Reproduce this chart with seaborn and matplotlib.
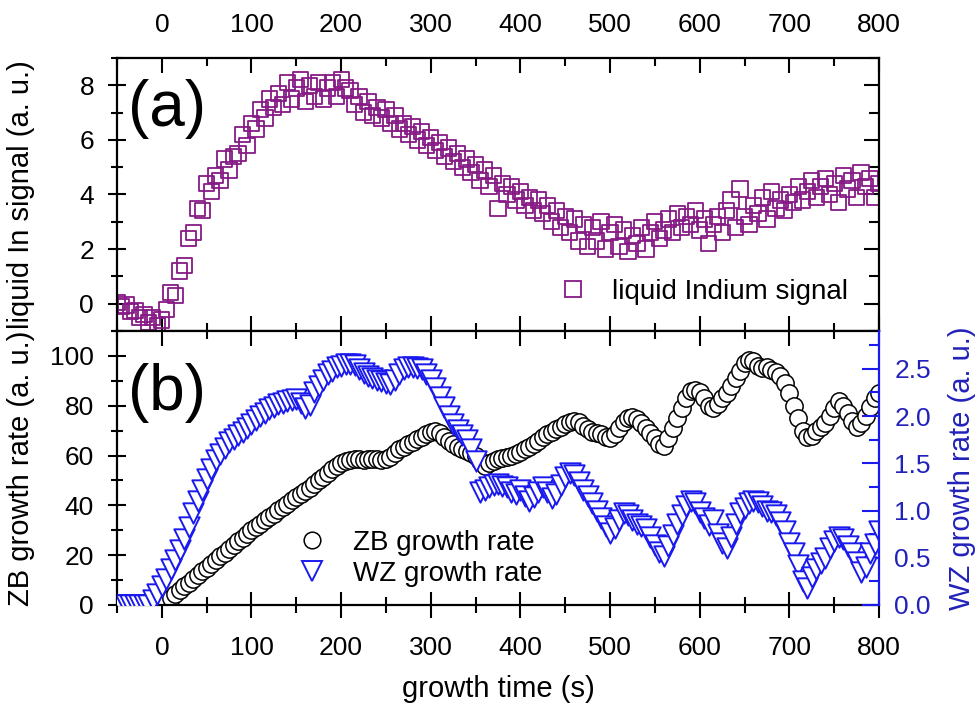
import matplotlib
matplotlib.use("Agg")
import matplotlib.pyplot as plt
import seaborn as sns
from matplotlib.ticker import MultipleLocator, FormatStrFormatter
from matplotlib.lines import Line2D

sns.set_style("ticks", rc={"text.color": "black", "axes.labelcolor": "black",
                           "xtick.color": "black", "ytick.color": "black",
                           "axes.edgecolor": "black"})
plt.rcParams['font.family'] = ['Liberation Sans', 'DejaVu Sans']

# ---------------- data ----------------
time_in = [-50, -45, -40, -35, -30, -25, -20, -15, -10, -5,
           0, 5, 10, 15, 20, 25, 30, 35, 40, 45,
           50, 55, 60, 65, 70, 75, 80, 85, 90, 95,
           100, 105, 110, 115, 120, 125, 130, 135, 140, 145,
           150, 155, 160, 165, 170, 175, 180, 185, 190, 195,
           200, 205, 210, 215, 220, 225, 230, 235, 240, 245,
           250, 255, 260, 265, 270, 275, 280, 285, 290, 295,
           300, 305, 310, 315, 320, 325, 330, 335, 340, 345,
           350, 355, 360, 365, 370, 375, 380, 385, 390, 395,
           400, 405, 410, 415, 420, 425, 430, 435, 440, 445,
           450, 455, 460, 465, 470, 475, 480, 485, 490, 495,
           500, 505, 510, 515, 520, 525, 530, 535, 540, 545,
           550, 555, 560, 565, 570, 575, 580, 585, 590, 595,
           600, 605, 610, 615, 620, 625, 630, 635, 640, 645,
           650, 655, 660, 665, 670, 675, 680, 685, 690, 695,
           700, 705, 710, 715, 720, 725, 730, 735, 740, 745,
           750, 755, 760, 765, 770, 775, 780, 785, 790, 795,
           800]
in_signal = [0.05, -0.1, -0.05, -0.3, -0.25, -0.5, -0.4, -0.7, -0.5, -0.8,
             -0.6, -0.2, 0.4, 0.3, 1.2, 1.4, 2.4, 2.6, 3.5, 3.4,
             4.4, 4.1, 4.7, 4.5, 5.3, 4.9, 5.4, 5.5, 6.2, 5.8,
             6.6, 6.4, 7.1, 6.8, 7.5, 7.2, 7.7, 7.3, 8.1, 7.5,
             7.9, 8.2, 7.4, 8.0, 7.6, 8.1, 7.5, 7.9, 8.1, 7.6,
             8.2, 7.9, 7.8, 7.3, 7.6, 7.0, 7.4, 6.9, 7.2, 6.8,
             7.1, 6.6, 6.9, 6.4, 6.6, 6.2, 6.5, 6.0, 6.3, 5.8,
             6.1, 5.6, 5.9, 5.4, 5.7, 5.2, 5.5, 5.0, 5.3, 4.8,
             5.1, 4.5, 4.9, 4.3, 4.7, 3.5, 4.4, 4.0, 4.3, 3.8,
             4.1, 3.6, 3.9, 3.4, 3.8, 3.3, 3.6, 3.0, 3.4, 2.8,
             3.2, 2.6, 3.1, 2.3, 2.9, 2.1, 2.8, 2.3, 3.0, 2.0,
             2.6, 2.9, 2.1, 2.7, 1.9, 2.5, 2.2, 2.8, 2.0, 2.6,
             3.0, 2.4, 2.7, 3.1, 2.6, 3.3, 2.8, 3.2, 2.9, 3.4,
             2.7, 3.1, 2.2, 2.9, 3.2, 2.6, 3.4, 3.8, 2.8, 4.2,
             3.2, 2.9, 3.6, 3.3, 3.9, 3.1, 4.1, 3.5, 3.8, 3.4,
             4.0, 3.7, 4.3, 3.8, 4.1, 4.5, 3.9, 4.3, 4.6, 4.0,
             4.4, 3.7, 4.7, 4.2, 4.5, 3.9, 4.8, 4.3, 4.6, 3.9,
             4.4]

time_zb = [0, 5, 10, 15, 20, 25, 30, 35, 40, 45,
           50, 55, 60, 65, 70, 75, 80, 85, 90, 95,
           100, 105, 110, 115, 120, 125, 130, 135, 140, 145,
           150, 155, 160, 165, 170, 175, 180, 185, 190, 195,
           200, 205, 210, 215, 220, 225, 230, 235, 240, 245,
           250, 255, 260, 265, 270, 275, 280, 285, 290, 295,
           300, 305, 310, 315, 320, 325, 330, 335, 340, 345,
           350, 355, 360, 365, 370, 375, 380, 385, 390, 395,
           400, 405, 410, 415, 420, 425, 430, 435, 440, 445,
           450, 455, 460, 465, 470, 475, 480, 485, 490, 495,
           500, 505, 510, 515, 520, 525, 530, 535, 540, 545,
           550, 555, 560, 565, 570, 575, 580, 585, 590, 595,
           600, 605, 610, 615, 620, 625, 630, 635, 640, 645,
           650, 655, 660, 665, 670, 675, 680, 685, 690, 695,
           700, 705, 710, 715, 720, 725, 730, 735, 740, 745,
           750, 755, 760, 765, 770, 775, 780, 785, 790, 795,
           800]
zb_rate = [0, 1.5, 3, 4.5, 6, 7.5, 9, 10.5, 12, 13.5,
           15, 16.5, 18, 19.5, 21, 22.5, 24, 25.5, 27, 28.5,
           30, 31.3, 32.6, 34, 35.3, 36.6, 38, 39.3, 40.6, 42,
           43.3, 44.5, 45.7, 47, 48.5, 50, 51.5, 53, 54.5, 56,
           57, 57.8, 58.3, 58.5, 58.5, 58.3, 58.5, 58.8, 58.5, 58.3,
           58.8, 59.5, 61, 62.5, 63.5, 64.5, 65.5, 66.5, 67.5, 68.5,
           69.5, 70, 69, 67.5, 66, 64.5, 63.5, 62.5, 62, 61,
           60, 58, 56, 57, 58, 58.5, 59, 59.5, 60, 60.5,
           61.5, 62.5, 63.5, 64.5, 66, 67.5, 68.5, 69.5, 70.5, 71.5,
           72.5, 73.5, 74, 73.5, 72, 70.5, 69.5, 69, 68.5, 67.5,
           67, 68.5, 71, 73.5, 75, 75.5, 74.5, 73, 71, 69,
           67, 64.5, 64, 67, 71, 75, 79, 83, 86, 86.5,
           85.5, 83, 80, 79, 80.5, 83, 85, 88, 91, 94,
           97, 98.5, 98, 96, 95, 95.5, 94.5, 93.5, 92, 89,
           85, 80, 75, 70, 67.5, 68, 70, 71.5, 73, 76,
           79, 82, 80, 77, 74, 71.5, 73, 76, 79.5, 83,
           85]

time_wz = time_in
wz_rate = [0, 0, 0, 0, 0, 0, 0, 0, 0.05, 0.12,
           0.2, 0.28, 0.38, 0.48, 0.58, 0.7, 0.83, 0.97, 1.1, 1.22,
           1.33, 1.44, 1.53, 1.6, 1.66, 1.72, 1.76, 1.8, 1.83, 1.87,
           1.92, 1.96, 2.0, 2.03, 2.07, 2.1, 2.13, 2.14, 2.16, 2.17,
           2.18, 2.14, 2.08, 2.12, 2.25, 2.32, 2.38, 2.44, 2.48, 2.52,
           2.53, 2.55, 2.55, 2.54, 2.5, 2.46, 2.42, 2.4, 2.38, 2.37,
           2.35, 2.34, 2.38, 2.44, 2.5, 2.52, 2.52, 2.51, 2.5, 2.45,
           2.38, 2.3, 2.2, 2.1, 2.0, 1.92, 1.85, 1.8, 1.75, 1.65,
           1.52, 1.2, 1.22, 1.25, 1.27, 1.28, 1.26, 1.25, 1.2, 1.18,
           1.22, 1.15, 1.1, 1.14, 1.2, 1.25, 1.2, 1.13, 1.18, 1.27,
           1.35, 1.4, 1.38, 1.3, 1.22, 1.15, 1.08, 1.0, 0.92, 0.84,
           0.76, 0.82, 0.9, 0.97, 0.95, 0.9, 0.86, 0.84, 0.8, 0.72,
           0.64, 0.56, 0.52, 0.62, 0.74, 0.86, 0.95, 1.05, 1.1, 1.08,
           0.98, 0.92, 0.85, 0.9, 0.75, 0.66, 0.6, 0.72, 0.86, 0.97,
           1.03, 1.08, 1.1, 1.09, 1.05, 1.0, 0.98, 0.95, 0.88, 0.78,
           0.66, 0.55, 0.42, 0.25, 0.18, 0.3, 0.38, 0.44, 0.5, 0.6,
           0.68, 0.72, 0.7, 0.62, 0.55, 0.45, 0.35, 0.4, 0.55, 0.65,
           0.78]

x_ticks = [0, 100, 200, 300, 400, 500, 600, 700, 800]

assert len(time_in) == len(in_signal)
assert len(time_zb) == len(zb_rate)
assert len(time_wz) == len(wz_rate)

PURPLE = "#861a86"
BLUE = "#1a1aee"
TEXTBLUE = "#2222bb"
TICK_FS = 19
LABEL_FS = 21
LEG_FS = 20

# ---------------- figure ----------------
fig = plt.figure(figsize=(9.79, 7.11), dpi=100)
L, W = 117 / 979, 762 / 979
ax_a = fig.add_axes([L, 1 - 331 / 711, W, 273 / 711])
ax_b = fig.add_axes([L, 1 - 605 / 711, W, 274 / 711])

# panel (a)
sns.scatterplot(x=time_in, y=in_signal, ax=ax_a, marker='s', s=120,
                color=PURPLE, facecolor='none', edgecolor=PURPLE, linewidth=1.3)
ax_a.set_xlim(-50, 800)
ax_a.set_ylim(-1, 9)
ax_a.set_xticks(x_ticks)
ax_a.xaxis.set_minor_locator(MultipleLocator(50))
ax_a.yaxis.set_major_locator(MultipleLocator(2))
ax_a.yaxis.set_minor_locator(MultipleLocator(1))
ax_a.tick_params(axis='x', which='both', direction='in', top=True, bottom=True,
                 labeltop=True, labelbottom=False, labelsize=TICK_FS, width=1.5, pad=15)
ax_a.tick_params(axis='x', which='major', length=11)
ax_a.tick_params(axis='x', which='minor', length=6)
ax_a.tick_params(axis='y', which='both', direction='inout', left=True, right=False,
                 labelsize=TICK_FS, width=1.5, pad=10)
ax_a.tick_params(axis='y', which='major', length=13)
ax_a.tick_params(axis='y', which='minor', length=8)
sec_a = ax_a.secondary_yaxis('right')
sec_a.yaxis.set_major_locator(MultipleLocator(2))
sec_a.yaxis.set_minor_locator(MultipleLocator(1))
sec_a.tick_params(axis='y', which='both', direction='in', labelright=False, width=1.5)
sec_a.tick_params(axis='y', which='major', length=11)
sec_a.tick_params(axis='y', which='minor', length=7)
sec_a.spines['right'].set_visible(False)
ax_a.set_xlabel('')
ax_a.set_ylabel('liquid In signal (a. u.)', fontsize=LABEL_FS)
ax_a.yaxis.set_label_coords(-0.107, 0.5)
ax_a.text(0.014, 0.815, '(a)', transform=ax_a.transAxes, fontsize=46,
          ha='left', va='center')
h_in = Line2D([], [], ls='', marker='s', ms=11, mfc='none', mec=PURPLE, mew=1.3)
ax_a.legend([h_in], ['liquid Indium signal'], loc='center left',
            bbox_to_anchor=(0.58, 0.143), frameon=False, fontsize=LEG_FS,
            borderpad=0, borderaxespad=0, handlelength=1.0, handletextpad=0.9)

# panel (b)
sns.scatterplot(x=time_zb, y=zb_rate, ax=ax_b, marker='o', s=155,
                color='black', facecolor='white', edgecolor='black', linewidth=1.1)
ax_b.set_xlim(-50, 800)
ax_b.set_ylim(0, 110)
ax_b.set_xticks(x_ticks)
ax_b.xaxis.set_minor_locator(MultipleLocator(50))
ax_b.yaxis.set_major_locator(MultipleLocator(20))
ax_b.yaxis.set_minor_locator(MultipleLocator(10))
ax_b.tick_params(axis='x', which='both', direction='inout', top=False, bottom=True,
                 labelsize=TICK_FS, width=1.5, pad=13)
ax_b.tick_params(axis='x', which='major', length=19)
ax_b.tick_params(axis='x', which='minor', length=12)
ax_b.tick_params(axis='y', which='both', direction='inout', left=True, right=False,
                 labelsize=TICK_FS, width=1.5, pad=10)
ax_b.tick_params(axis='y', which='major', length=13)
ax_b.tick_params(axis='y', which='minor', length=8)
sec_b = ax_b.secondary_xaxis('top')
sec_b.set_xticks(x_ticks)
sec_b.xaxis.set_minor_locator(MultipleLocator(50))
sec_b.tick_params(axis='x', which='both', direction='in', labeltop=False, width=1.5)
sec_b.tick_params(axis='x', which='major', length=11)
sec_b.tick_params(axis='x', which='minor', length=6)
sec_b.spines['top'].set_visible(False)
ax_b.set_xlabel('growth time (s)', fontsize=LABEL_FS)
ax_b.xaxis.set_label_coords(0.5, -0.255)
ax_b.set_ylabel('ZB growth rate (a. u.)', fontsize=LABEL_FS)
ax_b.yaxis.set_label_coords(-0.107, 0.5)
ax_b.text(0.014, 0.775, '(b)', transform=ax_b.transAxes, fontsize=46,
          ha='left', va='center')

ax2 = ax_b.twinx()
sns.scatterplot(x=time_wz, y=wz_rate, ax=ax2, marker='v', s=215,
                color=BLUE, facecolor='white', edgecolor=BLUE, linewidth=1.4)
ax2.set_ylim(0, 2.9)
ax2.yaxis.set_major_locator(MultipleLocator(0.5))
ax2.yaxis.set_minor_locator(MultipleLocator(0.25))
ax2.yaxis.set_major_formatter(FormatStrFormatter('%.1f'))
ax2.tick_params(axis='y', which='both', direction='in', colors=BLUE,
                labelcolor=TEXTBLUE, labelsize=TICK_FS, width=1.5, pad=11)
ax2.tick_params(axis='y', which='major', length=12)
ax2.tick_params(axis='y', which='minor', length=7)
ax2.set_ylabel('WZ growth rate (a. u.)', fontsize=LABEL_FS, color=TEXTBLUE, rotation=90)
ax2.yaxis.set_label_coords(1.09, 0.5)
for s in ['left', 'top', 'bottom']:
    ax2.spines[s].set_visible(False)
ax2.spines['right'].set_color(BLUE)
ax2.spines['right'].set_linewidth(1.6)
ax_b.spines['right'].set_visible(False)

h_zb = Line2D([], [], ls='', marker='o', ms=12, mfc='white', mec='black', mew=1.1)
h_wz = Line2D([], [], ls='', marker='v', ms=14, mfc='white', mec=BLUE, mew=1.4)
ax2.legend([h_zb, h_wz], ['ZB growth rate', 'WZ growth rate'], loc='center left',
           bbox_to_anchor=(0.238, 0.17), frameon=False, fontsize=LEG_FS,
           borderpad=0, borderaxespad=0, handlelength=1.0, handletextpad=0.95,
           labelspacing=0.2)

for ax in (ax_a, ax_b):
    for s in ax.spines.values():
        s.set_linewidth(1.6)

fig.savefig('out.png', dpi=100)
